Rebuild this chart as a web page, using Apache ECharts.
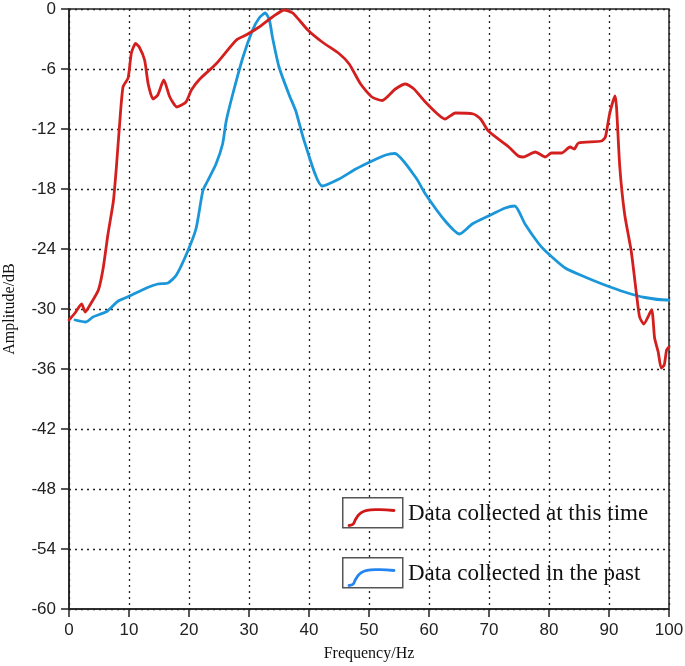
<!DOCTYPE html>
<html>
<head>
<meta charset="utf-8">
<script src="https://cdn.jsdelivr.net/npm/echarts@6/dist/echarts.min.js"></script>
<style>
  html, body { margin: 0; padding: 0; background: #fff; }
  #chart { width: 685px; height: 666px; }
</style>
</head>
<body>
<div id="chart"></div>
<script>
// data
var freqNow = [0, 1.0, 2.1, 2.7, 3.5, 4.9, 5.7, 6.5, 7.4, 7.9, 8.4, 9.0, 9.85, 10.4, 11.1, 11.7, 12.6, 13.2, 14.0, 14.8, 15.8, 16.8, 18.0, 19.5, 20.4, 21.8, 24.5, 27.9, 29.5, 31.7, 33.9, 35.9, 37.3, 39.8, 42.2, 45.0, 46.7, 48.6, 50.5, 52.2, 54.4, 56.1, 57.5, 59.4, 62.7, 64.4, 67.4, 68.6, 69.9, 73.3, 74.9, 75.7, 77.7, 79.4, 80.4, 82.1, 83.5, 84.2, 84.9, 88.75, 89.4, 90.1, 91.0, 91.25, 91.8, 92.6, 93.7, 94.6, 95.1, 95.8, 97.1, 97.6, 98.2, 98.7, 99.2, 99.6, 100];
var ampNow = [-31.1, -30.4, -29.5, -30.3, -29.6, -28.1, -25.9, -22.5, -19.2, -15.8, -11.8, -7.8, -6.9, -4.4, -3.45, -3.8, -5.1, -7.5, -9.0, -8.6, -7.1, -8.8, -9.8, -9.3, -8.1, -7.0, -5.5, -3.1, -2.6, -1.8, -0.8, -0.1, -0.4, -2.1, -3.3, -4.45, -5.5, -7.5, -8.8, -9.15, -8.0, -7.5, -8.0, -9.3, -11.0, -10.4, -10.5, -11.0, -12.2, -13.8, -14.7, -14.8, -14.3, -14.8, -14.4, -14.4, -13.8, -14.0, -13.4, -13.2, -12.8, -10.5, -8.7, -9.8, -15.8, -20.5, -24.2, -28.6, -30.8, -31.5, -30.1, -32.9, -34.3, -35.9, -35.6, -34.1, -33.8];

var freqPast = [1.0, 2.8, 4.0, 6.3, 8.2, 10.1, 12.9, 14.8, 16.5, 17.9, 19.8, 21.2, 22.3, 23.1, 24.5, 25.6, 26.2, 27.3, 29.0, 30.6, 31.7, 32.7, 33.4, 33.9, 35.0, 36.7, 37.8, 39.2, 42.2, 45.0, 47.8, 50.5, 52.8, 54.3, 57.8, 59.4, 62.7, 65.1, 67.2, 69.9, 72.7, 74.3, 76.0, 78.2, 79.4, 82.7, 86.0, 89.3, 92.6, 96.0, 99.6, 100];
var ampPast = [-31.1, -31.3, -30.8, -30.25, -29.2, -28.7, -27.9, -27.5, -27.4, -26.6, -24.2, -21.9, -18.2, -17.2, -15.5, -13.5, -11.2, -8.5, -4.8, -2.1, -0.9, -0.4, -1.1, -2.8, -5.8, -8.6, -10.2, -13.2, -17.7, -17.0, -16.0, -15.2, -14.6, -14.45, -16.85, -18.5, -21.2, -22.5, -21.5, -20.7, -19.9, -19.7, -21.5, -23.4, -24.2, -25.9, -26.8, -27.6, -28.3, -28.85, -29.1, -29.1];

var seriesNames = ["Data collected at this time", "Data collected in the past"];
var xTicks = [0, 100, 10];   // min, max, interval
var yTicks = [-60, 0, 6];

function zip(xs, ys) {
  return xs.map(function (x, i) { return [x, ys[i]]; });
}

var chart = echarts.init(document.getElementById("chart"));

var gridLine = { show: true, lineStyle: { color: "#222", width: 1.3, type: [2, 4] } };
var sans = "'Liberation Sans', Arial, sans-serif";
var serif = "'Liberation Serif', 'Times New Roman', serif";

// legend boxes drawn by hand (boxed sample curve, as in the figure)
function legendItem(top, color, label) {
  var left = 342;
  return [
    {
      type: "rect", left: left, top: top, z: 10,
      shape: { width: 60, height: 30 },
      style: { fill: "#fff", stroke: "#555", lineWidth: 1.5 }
    },
    {
      type: "polyline", x: left, y: top, z: 11,
      shape: { points: [[7, 28.5], [11, 27.3], [13.5, 22.5], [17, 17.5], [22, 14.3], [28.5, 12.8], [38, 12.7], [52, 13.5]], smooth: 0.4 },
      style: { fill: null, stroke: color, lineWidth: 2.8, lineCap: "round" }
    },
    {
      type: "text", left: left + 66, top: top + 5, z: 11,
      style: { text: label, fill: "#111", font: "23px " + serif }
    }
  ];
}

var option = {
  animation: false,
  backgroundColor: "#fff",
  grid: {
    left: 69, right: 16, top: 9, bottom: 57,
    outerBoundsMode: "none",
    show: true, borderColor: "#222", borderWidth: 1.5, backgroundColor: "transparent"
  },
  xAxis: {
    type: "value",
    min: xTicks[0], max: xTicks[1], interval: xTicks[2],
    name: "Frequency/Hz",
    nameLocation: "middle",
    nameGap: 37,
    nameTextStyle: { fontFamily: serif, fontSize: 16, color: "#111" },
    axisLine: { show: true, onZero: false, lineStyle: { color: "#222", width: 1.5 } },
    axisTick: { show: true, inside: false, length: 8, lineStyle: { color: "#222", width: 1.5 } },
    axisLabel: { fontFamily: sans, fontSize: 17, color: "#222", margin: 13 },
    splitLine: gridLine
  },
  yAxis: {
    type: "value",
    min: yTicks[0], max: yTicks[1], interval: yTicks[2],
    name: "Amplitude/dB",
    nameLocation: "middle",
    nameGap: 51,
    nameTextStyle: { fontFamily: serif, fontSize: 16, color: "#111" },
    axisLine: { show: true, onZero: false, lineStyle: { color: "#222", width: 1.5 } },
    axisTick: { show: true, inside: false, length: 8, lineStyle: { color: "#222", width: 1.5 } },
    axisLabel: { fontFamily: sans, fontSize: 17, color: "#222", margin: 13 },
    splitLine: gridLine
  },
  series: [
    {
      name: seriesNames[0],
      type: "line",
      data: zip(freqNow, ampNow),
      showSymbol: false,
      smooth: 0.2,
      lineStyle: { color: "#d3201f", width: 2.8, cap: "round", join: "round" },
      z: 3
    },
    {
      name: seriesNames[1],
      type: "line",
      data: zip(freqPast, ampPast),
      showSymbol: false,
      smooth: 0.2,
      lineStyle: { color: "#1b97d9", width: 2.8, cap: "round", join: "round" },
      z: 2
    }
  ],
  graphic: legendItem(497, "#d01818", seriesNames[0]).concat(legendItem(557, "#2585f0", seriesNames[1]))
};

chart.setOption(option);
window.onresize = function () { chart.resize(); };
</script>
</body>
</html>
